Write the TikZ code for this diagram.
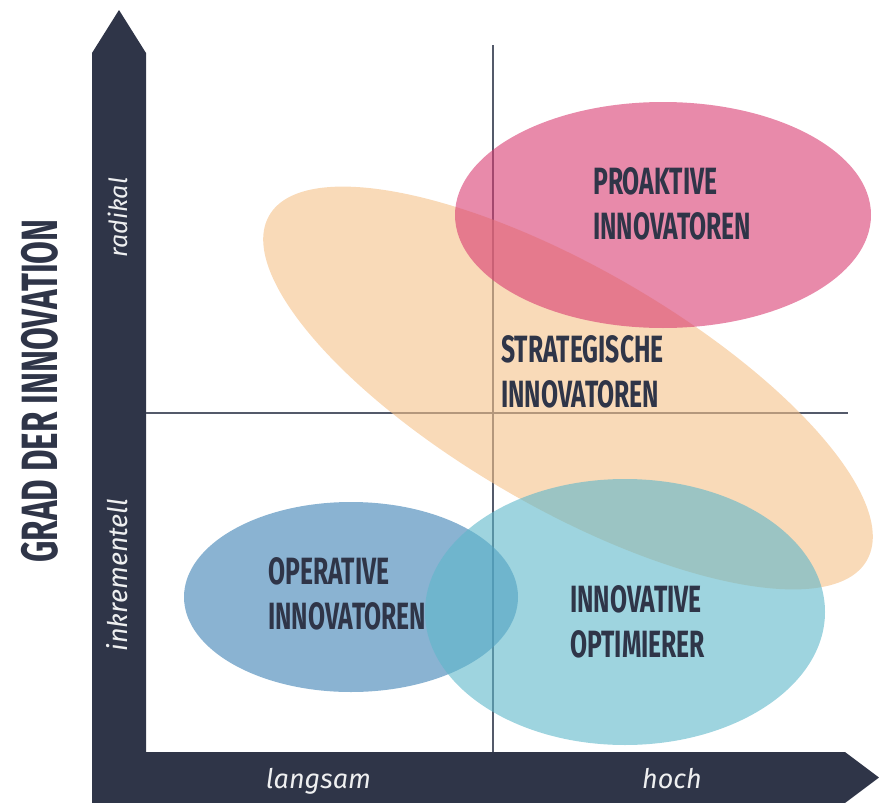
\documentclass[tikz,border=0pt]{standalone}
\usepackage{fontspec}
\setmainfont{Fira Sans}
\newfontfamily\capsfont[FakeStretch=0.65]{Fira Sans}
\definecolor{navy}{HTML}{2F3548}
\definecolor{gridgray}{HTML}{545A6A}
\definecolor{pinkc}{HTML}{D83C71}
\definecolor{peach}{HTML}{F5C189}
\definecolor{bluec}{HTML}{3C80B4}
\definecolor{tealc}{HTML}{5DB7CA}
\tikzset{
	group/.style={fill opacity=0.6},
	grouplabel/.style={anchor=north west,inner sep=0pt,align=left,text=navy},
	axislabel/.style={anchor=base,inner sep=0pt,text=white!92!navy,font=\itshape\fontsize{27}{27}\selectfont}
}
\begin{document}
\begin{tikzpicture}[x=1pt,y=-1pt,font=\capsfont\bfseries\fontsize{38}{45}\selectfont]
	\useasboundingbox (0,0) rectangle (879,803);
	% axes
	\fill[navy] (92,803)--(92,53)--(119,10)--(146,53)--(146,752)--(845,752)--(879,777.5)--(845,803)--cycle;
	\draw[gridgray,line width=1.5pt] (493,45)--(493,752);
	\draw[gridgray,line width=1.5pt] (146,413)--(848,413);
	% groups
	\fill[peach,group,rotate around={-30:(568,388)}] (568,388) ellipse[x radius=345,y radius=120];
	\fill[pinkc,group] (663,215) ellipse[x radius=208,y radius=113];
	\fill[bluec,group] (351,597) ellipse[x radius=167,y radius=95];
	\fill[tealc,group] (625,612) ellipse[x radius=200,y radius=133];
	\node[grouplabel] (proaktiv) at (593,167) {PROAKTIVE\\INNOVATOREN};
	\node[grouplabel] (strategisch) at (501,335) {STRATEGISCHE\\INNOVATOREN};
	\node[grouplabel] (operativ) at (268,557) {OPERATIVE\\INNOVATOREN};
	\node[grouplabel] (optimierer) at (570,585) {INNOVATIVE\\OPTIMIERER};
	% axis texts
	\node[anchor=base,inner sep=0pt,rotate=90,text=navy,font=\capsfont\bfseries\fontsize{51}{51}\selectfont] (yaxis) at (57,391) {GRAD DER INNOVATION};
	\node[axislabel,rotate=90,font=\itshape\fontsize{25}{25}\selectfont] (radical) at (127,217.5) {radikal};
	\node[axislabel,rotate=90] (incremental) at (127,575) {inkrementell};
	\node[axislabel] (slow) at (318.5,788) {langsam};
	\node[axislabel] (fast) at (672,788) {hoch};
\end{tikzpicture}
\end{document}
